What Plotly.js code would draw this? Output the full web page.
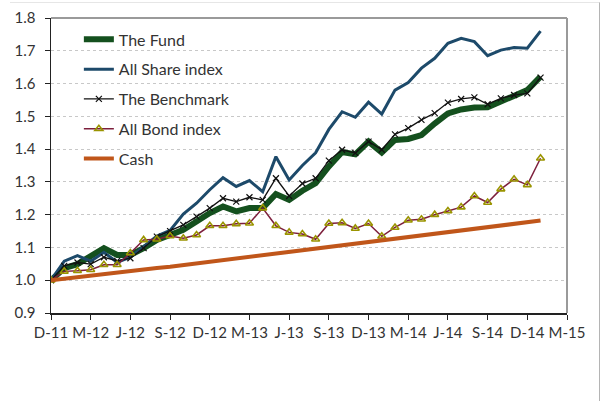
<!DOCTYPE html>
<html>
<head>
<meta charset="utf-8">
<script src="https://cdn.plot.ly/plotly-3.0.1.min.js"></script>
<style>
  html, body { margin: 0; padding: 0; background: #fff; }
  #wrap { position: relative; width: 602px; height: 401px; overflow: hidden; }
  #chart { width: 602px; height: 401px; }
  #frame { position: absolute; left: 10px; top: 2px; width: 589px; height: 420px;
           border-top: 1px solid #e6e6e6; border-right: 1px solid #b4b4b4; pointer-events: none; }
</style>
</head>
<body>
<div id="wrap"><div id="chart"></div><div id="frame"></div></div>
<script>
const tickLabels = ["D-11","M-12","J-12","S-12","D-12","M-13","J-13","S-13","D-13","M-14","J-14","S-14","D-14","M-15"];

const fund = [1.00, 1.037, 1.049, 1.072, 1.098, 1.077, 1.077, 1.098, 1.123, 1.138, 1.154, 1.179, 1.205, 1.225, 1.21, 1.22, 1.22, 1.263, 1.245, 1.273, 1.296, 1.347, 1.391, 1.384, 1.423, 1.39, 1.428, 1.431, 1.443, 1.478, 1.509, 1.521, 1.527, 1.528, 1.545, 1.56, 1.58, 1.621];
const allShare = [1.00, 1.058, 1.075, 1.058, 1.085, 1.055, 1.07, 1.103, 1.135, 1.152, 1.202, 1.235, 1.276, 1.313, 1.286, 1.304, 1.27, 1.377, 1.306, 1.35, 1.389, 1.46, 1.514, 1.497, 1.543, 1.507, 1.58, 1.603, 1.647, 1.677, 1.723, 1.738, 1.728, 1.685, 1.702, 1.71, 1.708, 1.76];
const benchmark = [1.00, 1.044, 1.054, 1.049, 1.07, 1.059, 1.067, 1.098, 1.133, 1.15, 1.169, 1.194, 1.22, 1.25, 1.24, 1.253, 1.245, 1.311, 1.257, 1.295, 1.311, 1.365, 1.398, 1.388, 1.423, 1.398, 1.445, 1.464, 1.489, 1.51, 1.542, 1.553, 1.558, 1.537, 1.555, 1.565, 1.57, 1.618];
const allBond = [1.00, 1.027, 1.029, 1.032, 1.047, 1.047, 1.083, 1.123, 1.125, 1.135, 1.128, 1.138, 1.166, 1.166, 1.172, 1.174, 1.22, 1.166, 1.146, 1.141, 1.125, 1.173, 1.175, 1.158, 1.173, 1.134, 1.161, 1.183, 1.186, 1.2, 1.211, 1.223, 1.257, 1.237, 1.278, 1.308, 1.291, 1.372];
const cash = [1.000, 1.005, 1.009, 1.014, 1.018, 1.023, 1.027, 1.032, 1.037, 1.041, 1.046, 1.051, 1.055, 1.060, 1.065, 1.069, 1.074, 1.079, 1.084, 1.089, 1.094, 1.099, 1.104, 1.109, 1.114, 1.119, 1.124, 1.129, 1.134, 1.139, 1.144, 1.150, 1.155, 1.160, 1.165, 1.171, 1.176, 1.182];

const months = fund.map((_, i) => i);       // month index from Dec-2011
const tickVals = tickLabels.map((_, i) => i * 3);

const FONT = "Lato, 'Noto Sans', sans-serif";

const traces = [
  { name: "The Fund", y: fund, mode: "lines", line: { color: "#14501e", width: 6 }, legendgroup: "a", legendrank: 1 },
  { name: "All Share index", y: allShare, mode: "lines", line: { color: "#1d4a6a", width: 3 }, legendgroup: "b", legendrank: 2 },
  { name: "The Benchmark", y: benchmark, mode: "lines+markers", line: { color: "#111111", width: 1.3 },
    marker: { symbol: "x-thin-open", size: 6, color: "#111111", line: { color: "#111111", width: 1.2 } }, legendgroup: "c", legendrank: 3 },
  { name: "All Bond index", y: allBond, mode: "lines+markers", line: { color: "#7d1f3c", width: 1.5 },
    marker: { symbol: "triangle-up-open", size: 7, color: "#9a9400", line: { color: "#9a9400", width: 1.6 } }, legendgroup: "d", legendrank: 4 },
  { name: "Cash", y: cash, mode: "lines", line: { color: "#c0561a", width: 4 }, legendgroup: "e", legendrank: 5 }
].map(t => Object.assign({ x: months, type: "scatter", hoverinfo: "skip" }, t));

const layout = {
  width: 602, height: 401,
  margin: { l: 51, r: 35, t: 18, b: 88 },
  paper_bgcolor: "rgba(0,0,0,0)", plot_bgcolor: "#fff",
  font: { family: FONT, size: 15, color: "#333" },
  showlegend: true,
  legend: {
    x: 0.054, y: 0.985, xanchor: "left", yanchor: "top",
    font: { family: FONT, size: 16, color: "#333" },
    bgcolor: "rgba(255,255,255,0)", tracegroupgap: 6, traceorder: "grouped"
  },
  xaxis: {
    range: [0, 39], tickvals: tickVals, ticktext: tickLabels,
    showgrid: false, zeroline: false,
    showline: true, linecolor: "#222", linewidth: 1.5,
    ticks: "outside", ticklen: 5, tickcolor: "#222", tickwidth: 1,
    tickfont: { family: FONT, size: 15, color: "#333" }
  },
  yaxis: {
    range: [0.9, 1.8], dtick: 0.1, tick0: 0.9, tickformat: ".1f",
    showgrid: true, gridcolor: "#c8c8c8", griddash: "dot", gridwidth: 1,
    zeroline: false, showline: true, linecolor: "#222", linewidth: 1.5,
    ticks: "outside", ticklen: 5, tickcolor: "#222", tickwidth: 1,
    ticklabelstandoff: 6,
    tickfont: { family: FONT, size: 15, color: "#333" }
  },
  shapes: [
    { type: "line", xref: "paper", yref: "paper", x0: 0, x1: 1, y0: 1, y1: 1, line: { color: "#9a9a9a", width: 2 } },
    { type: "line", xref: "paper", yref: "paper", x0: 1, x1: 1, y0: 0, y1: 1, line: { color: "#9a9a9a", width: 2 } }
  ]
};

Plotly.newPlot("chart", traces, layout, { staticPlot: true, displayModeBar: false });
</script>
</body>
</html>
